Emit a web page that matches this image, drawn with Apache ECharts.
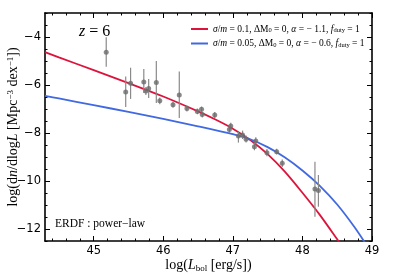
<!DOCTYPE html>
<html><head><meta charset="utf-8">
<script src="https://cdn.jsdelivr.net/npm/echarts@6/dist/echarts.min.js"></script>
<style>html,body{margin:0;padding:0;background:#fff}#c{width:413px;height:275px}</style>
</head><body><div id="c"></div>
<script>
// ---- data ----
var obsX  = [45.18,45.46,45.53,45.72,45.75,45.79,45.90,45.95,46.14,46.23,46.34,46.49,46.55,46.56,46.74,46.95,46.97,47.08,47.14,47.19,47.31,47.33,47.49,47.63,47.71,48.18,48.23];
var obsY  = [-4.64,-6.29,-5.93,-5.88,-6.25,-6.15,-5.90,-6.66,-6.82,-6.42,-6.98,-7.10,-7.01,-7.23,-7.25,-7.85,-7.71,-8.13,-8.08,-8.26,-8.57,-8.33,-8.82,-8.78,-9.26,-10.33,-10.40];
var obsLo = [-5.24,-6.92,-6.58,-6.33,-6.42,-6.54,-6.75,-6.80,-6.95,-7.38,-7.10,-7.22,-7.12,-7.35,-7.37,-8.00,-7.85,-8.40,-8.25,-8.40,-8.72,-8.48,-8.97,-8.90,-9.42,-11.49,-11.07];
var obsHi = [-4.01,-5.65,-5.28,-5.33,-6.08,-5.75,-5.00,-6.52,-6.70,-5.44,-6.85,-6.98,-6.90,-7.10,-7.13,-7.70,-7.57,-7.95,-7.90,-8.10,-8.42,-8.18,-8.67,-8.66,-9.10,-9.20,-9.75];

var redX = [44.3,44.5,45.0,45.5,46.0,46.5,46.75,47.0,47.25,47.5,47.75,48.0,48.25,48.5,48.6];
var redY = [-4.63,-4.85,-5.38,-5.92,-6.48,-7.10,-7.44,-7.82,-8.29,-8.88,-9.62,-10.49,-11.41,-12.43,-12.85];
var blueX = [44.3,44.5,45.0,45.5,46.0,46.5,47.0,47.25,47.5,47.75,48.0,48.25,48.5,48.75,48.95];
var blueY = [-6.45,-6.56,-6.84,-7.12,-7.41,-7.72,-8.05,-8.26,-8.59,-9.02,-9.56,-10.20,-10.98,-11.93,-12.8];

var xMajor = [45,46,47,48,49];
var xMinor = [44.4,44.6,44.8,45.2,45.4,45.6,45.8,46.2,46.4,46.6,46.8,47.2,47.4,47.6,47.8,48.2,48.4,48.6,48.8];
var yMajor = [-12,-10,-8,-6,-4];
var yMinor = [-12.5,-11.5,-11,-10.5,-9.5,-9,-8.5,-7.5,-7,-6.5,-5.5,-5,-4.5,-3.5,-3];

var redName = 'red', blueName = 'blue';
var redLabel = '{i|σ}/{i|m} = 0.1, ΔM{s|0} = 0, {i|α} = − 1.1, {i|f}{s|duty} = 1';
var blueLabel = '{i|σ}/{i|m} = 0.05, ΔM{s|0} = 0, {i|α} = − 0.6, {i|f}{s|duty} = 1';

// ---- chart ----
var serif = '"Liberation Serif","DejaVu Serif",serif';
var sans = '"DejaVu Sans",sans-serif';
function zip(a,b){return a.map(function(v,i){return [v,b[i]];});}
var XMIN=44.3, XMAX=49, YMIN=-12.5, YMAX=-3;
function minus(v){return String(v).replace('-','\u2212');}

function ax(pos, ticks, len, showLine, showLabel, mn, mx, extra){
  var o = {type:'value', position:pos, min:mn, max:mx,
    axisLine:{show:showLine, onZero:false, lineStyle:{color:'#000', width:1.6}},
    axisTick:{show:true, inside:true, length:len, customValues:ticks, lineStyle:{color:'#000', width:1}},
    axisLabel:{show:showLabel, customValues:ticks, color:'#000', fontSize:11.5, fontFamily:sans, margin:4, formatter:minus},
    splitLine:{show:false}};
  return Object.assign(o, extra||{});
}

var chart = echarts.init(document.getElementById('c'), null, {renderer:'canvas'});
chart.setOption({
  animation:false,
  backgroundColor:'#fff',
  grid:{left:45, right:41, top:13, bottom:34, containLabel:false, outerBoundsMode:'none'},
  xAxis:[
    ax('bottom', xMajor, 5, true, true, XMIN, XMAX, {
      name:'log({i|L}{s|bol} [erg/s])', nameLocation:'middle', nameGap:17, nameMoveOverlap:false,
      nameTextStyle:{fontFamily:serif, fontSize:14, color:'#000',
        rich:{i:{fontStyle:'italic', fontFamily:serif, fontSize:14}, s:{fontFamily:serif, fontSize:9, verticalAlign:'bottom', padding:[6,0,0,0]}}}}),
    ax('bottom', xMinor, 2.5, false, false, XMIN, XMAX),
    ax('top', xMajor, 5, true, false, XMIN, XMAX),
    ax('top', xMinor, 2.5, false, false, XMIN, XMAX)
  ],
  yAxis:[
    ax('left', yMajor, 5, true, true, YMIN, YMAX, {
      name:'log(d{i|n}/dlog{i|L} [Mpc{p|−3} dex{p|−1}])', nameLocation:'middle', nameGap:24, nameRotate:90, nameMoveOverlap:false,
      nameTextStyle:{fontFamily:serif, fontSize:14, color:'#000',
        rich:{i:{fontStyle:'italic', fontFamily:serif, fontSize:14}, p:{fontFamily:serif, fontSize:9, verticalAlign:'top', padding:[0,0,6,0]}}}}),
    ax('left', yMinor, 2.5, false, false, YMIN, YMAX),
    ax('right', yMajor, 5, true, false, YMIN, YMAX),
    ax('right', yMinor, 2.5, false, false, YMIN, YMAX)
  ],
  legend:{
    data:[redName, blueName], orient:'vertical', left:186, top:19, itemWidth:17, itemHeight:2, itemGap:4.5,
    icon:'rect',
    formatter:function(n){return n===redName?redLabel:blueLabel;},
    textStyle:{fontFamily:serif, fontSize:9.5, color:'#000',
      rich:{i:{fontStyle:'italic', fontFamily:serif, fontSize:9.5}, s:{fontFamily:serif, fontSize:6.5, verticalAlign:'bottom', padding:[3,0,0,0]}}}
  },
  graphic:[
    {type:'text', left:79, top:24, style:{text:'{i|z} = 6', fontFamily:serif, fontSize:16, fill:'#000',
      rich:{i:{fontStyle:'italic', fontFamily:serif, fontSize:16}}}},
    {type:'text', left:55, top:218, style:{text:'ERDF : power\u2212law', fontFamily:serif, fontSize:11.5, fill:'#000'}}
  ],
  series:[
    {name:redName, type:'line', data:zip(redX, redY), smooth:0.3, showSymbol:false, clip:true,
      lineStyle:{color:'#dc143c', width:1.8}, itemStyle:{color:'#dc143c'}, z:3},
    {name:blueName, type:'line', data:zip(blueX, blueY), smooth:0.3, showSymbol:false, clip:true,
      lineStyle:{color:'#4169e1', width:1.8}, itemStyle:{color:'#4169e1'}, z:3},
    {type:'custom', data:obsX.map(function(x,i){return [x, obsLo[i], obsHi[i]];}), z:4,
      renderItem:function(params, api){
        var a = api.coord([api.value(0), api.value(1)]);
        var b = api.coord([api.value(0), api.value(2)]);
        return {type:'line', shape:{x1:a[0], y1:a[1], x2:b[0], y2:b[1]}, style:{stroke:'#8a8a8a', lineWidth:1.2}};
      }},
    {type:'scatter', data:zip(obsX, obsY), symbol:'circle', symbolSize:5, z:5,
      itemStyle:{color:'#6b6b6b'}}
  ]
});
</script></body></html>
